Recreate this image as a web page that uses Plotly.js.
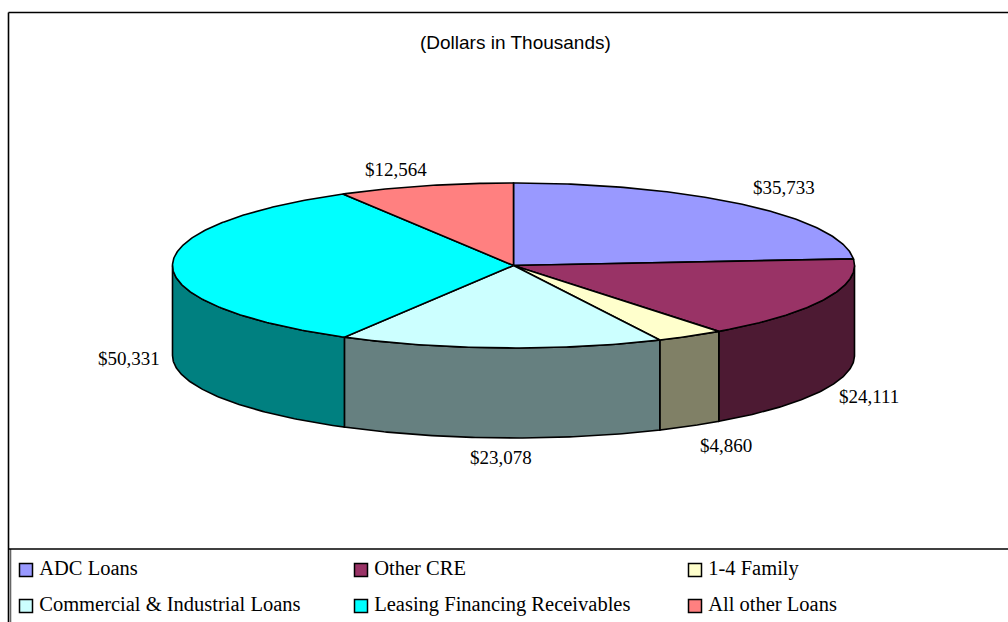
<!DOCTYPE html>
<html><head><meta charset="utf-8">
<script src="https://cdn.plot.ly/plotly-3.0.1.min.js"></script>
<style>html,body{margin:0;padding:0;background:#fff}#c{width:1008px;height:622px}</style>
</head><body><div id="c"></div>
<script>
const categories = ["ADC Loans","Other CRE","1-4 Family","Commercial & Industrial Loans","Leasing Financing Receivables","All other Loans"];
const values = [35733,24111,4860,23078,50331,12564];
const topColors = ["#9999ff","#993366","#ffffcc","#ccffff","#00ffff","#ff8080"];
const sideColors = ["#4d4d80","#4d1a33","#808066","#668080","#008080","#804040"];

const subtitle = "(Dollars in Thousands)";
const pie = {cx:513.5, cy:265.5, rx:341, ry:82.5, depth:90};
const labelAt = [[784,187],[869,396],[726,445],[501,457],[129,358],[396,169]];
const legendAt = [[26,570],[361,570],[695,570],[26,606],[361,606],[695,606]];
const serif = "Liberation Serif, Times New Roman, serif";
const sans = "Liberation Sans, Arial, sans-serif";

const total = values.reduce((a,b)=>a+b,0);
const px = t => pie.cx + pie.rx*Math.sin(t);
const py = (t,d=0) => pie.cy - pie.ry*Math.cos(t) + d;
function arc(a,b){const n=Math.max(2,Math.ceil((b-a)/0.01));const r=[];for(let i=0;i<=n;i++)r.push(a+(b-a)*i/n);return r;}
const outline = {color:"#000",width:1.6};
const traces = [];
const tops = [];
let cum = 0;
values.forEach((v,i)=>{
  const a = cum/total*2*Math.PI, b = (cum+v)/total*2*Math.PI; cum += v;
  // wall: the part of the rim that faces the viewer
  const s = Math.max(a,Math.PI/2), e = Math.min(b,3*Math.PI/2);
  if (e > s) {
    const ts = arc(s,e), rev = ts.slice().reverse();
    traces.push({type:"scatter",mode:"lines",fill:"toself",fillcolor:sideColors[i],line:outline,hoverinfo:"skip",showlegend:false,
      x:ts.map(px).concat(rev.map(px),[px(s)]),
      y:ts.map(t=>py(t)).concat(rev.map(t=>py(t,pie.depth)),[py(s)])});
  }
  const ts = arc(a,b);
  tops.push({type:"scatter",mode:"lines",fill:"toself",fillcolor:topColors[i],line:outline,name:categories[i],showlegend:false,
    text:"$"+v.toLocaleString("en-US"),hoverinfo:"name+text",
    x:[pie.cx].concat(ts.map(px),[pie.cx]),
    y:[pie.cy].concat(ts.map(t=>py(t)),[pie.cy])});
});
traces.push(...tops);
categories.forEach((c,i)=>{
  traces.push({type:"scatter",mode:"markers+text",x:[legendAt[i][0]],y:[legendAt[i][1]],
    marker:{symbol:"square",size:13,color:topColors[i],line:{color:"#000",width:1.5}},
    text:["\u2009"+c],textposition:"middle right",textfont:{family:serif,size:20.5,color:"#000"},
    cliponaxis:false,showlegend:false,hoverinfo:"skip"});
});
const annotations = values.map((v,i)=>({xref:"x",yref:"y",x:labelAt[i][0],y:labelAt[i][1],showarrow:false,
  text:"$"+v.toLocaleString("en-US"),font:{family:serif,size:19,color:"#000"},xanchor:"center",yanchor:"middle"}));
annotations.push({xref:"x",yref:"y",x:515,y:42,showarrow:false,text:subtitle,font:{family:sans,size:19,color:"#000"},xanchor:"center",yanchor:"middle"});
const line = (x0,y0,x1,y1,w,c)=>({type:"line",xref:"x",yref:"y",x0,y0,x1,y1,line:{color:c||"#000",width:w},layer:"below"});
const layout = {
  width:1008,height:622,margin:{l:0,r:0,t:0,b:0},paper_bgcolor:"#fff",plot_bgcolor:"#fff",showlegend:false,
  xaxis:{range:[0,1008],visible:false,fixedrange:true},
  yaxis:{range:[622,0],visible:false,fixedrange:true},
  shapes:[line(8.5,12.5,1008,12.5,1.6),line(8.5,12.5,8.5,622,1.6),line(10.5,549,10.5,622,1.6,"#666"),line(9,549,1008,549,1.6)],
  annotations
};
Plotly.newPlot("c",traces,layout,{displayModeBar:false,staticPlot:true});
</script></body></html>
